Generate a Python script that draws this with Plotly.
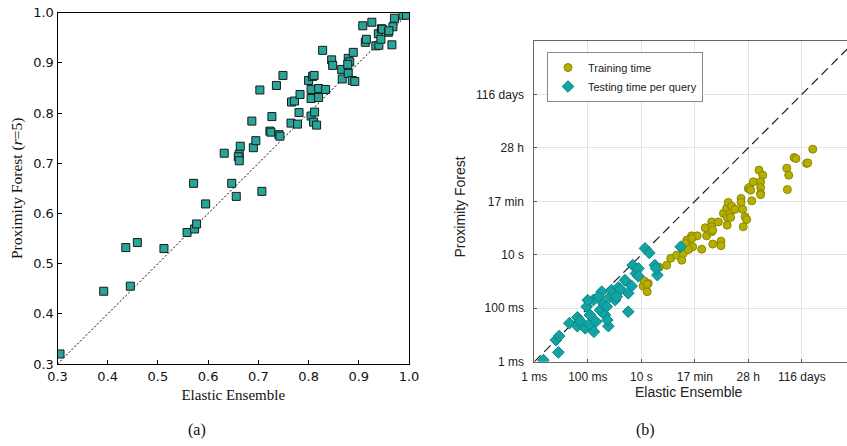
import numpy as np
import plotly.graph_objects as go

# ---- Panel (a): accuracy comparison ----
ee_acc = [0.305, 0.392, 0.445, 0.436, 0.459, 0.512, 0.558, 0.573, 0.577, 0.571,
          0.595, 0.647, 0.656, 0.707, 0.632, 0.662, 0.660, 0.662, 0.664, 0.690,
          0.695, 0.687, 0.703, 0.723, 0.725, 0.741, 0.743, 0.727, 0.736, 0.749,
          0.766, 0.772, 0.783, 0.765, 0.778, 0.781, 0.800, 0.808, 0.811, 0.805,
          0.820, 0.834, 0.805, 0.820, 0.805, 0.812, 0.810, 0.816, 0.828, 0.846,
          0.848, 0.866, 0.867, 0.879, 0.882, 0.878, 0.879, 0.889, 0.887, 0.892,
          0.908, 0.926, 0.913, 0.915, 0.934, 0.940, 0.939, 0.945, 0.947, 0.944,
          0.959, 0.968, 0.971, 0.966, 0.988, 0.995, 0.960]
pf_acc = [0.320, 0.445, 0.455, 0.532, 0.542, 0.530, 0.562, 0.569, 0.579, 0.660,
          0.619, 0.660, 0.634, 0.644, 0.720, 0.718, 0.713, 0.705, 0.734, 0.731,
          0.745, 0.784, 0.846, 0.764, 0.762, 0.757, 0.754, 0.793, 0.855, 0.875,
          0.822, 0.824, 0.837, 0.780, 0.778, 0.801, 0.865, 0.873, 0.875, 0.847,
          0.849, 0.847, 0.829, 0.831, 0.794, 0.802, 0.782, 0.776, 0.925, 0.906,
          0.895, 0.887, 0.868, 0.909, 0.902, 0.897, 0.879, 0.921, 0.865, 0.863,
          0.974, 0.981, 0.941, 0.947, 0.934, 0.935, 0.958, 0.968, 0.967, 0.947,
          0.961, 0.972, 0.989, 0.936, 0.995, 0.995, 0.964]

# ---- Panel (b): run times, log10(seconds) ----
train_ee_log10s = [1.07, 1.26, 1.22, 1.10, 1.22, 1.67, 1.95, 2.10, 2.32, 2.51,
                   2.57, 2.63, 2.70, 2.76, 2.82, 2.66, 2.88, 2.92, 3.09, 3.26,
                   2.89, 2.76, 3.39, 3.44, 3.63, 3.63, 3.63, 3.67, 3.67, 3.88,
                   3.98, 3.98, 4.07, 4.19, 4.21, 4.21, 4.25, 4.32, 4.38, 4.50,
                   4.34, 4.73, 4.73, 4.79, 4.88, 4.94, 4.81, 5.00, 5.04, 5.09,
                   5.13, 5.19, 5.40, 5.54, 5.46, 5.46, 5.46, 5.46, 6.44, 6.51,
                   6.46, 6.71, 6.78, 7.18, 7.22, 7.41]
train_pf_log10s = [-0.17, -0.07, -0.38, 0.03, -0.10, 0.53, 0.61, 0.87, 0.99, 0.80,
                   1.05, 1.36, 1.55, 1.21, 1.36, 1.42, 1.71, 1.30, 1.71, 1.21,
                   1.61, 1.20, 2.01, 1.71, 2.23, 2.05, 1.86, 1.40, 1.92, 2.23,
                   1.51, 1.34, 2.55, 2.74, 2.40, 2.11, 2.96, 2.55, 2.82, 2.70,
                   2.40, 3.11, 2.96, 2.70, 2.42, 2.32, 2.05, 3.48, 3.52, 3.42,
                   3.02, 3.73, 4.17, 3.98, 3.73, 3.52, 3.30, 3.25, 4.24, 3.98,
                   3.44, 4.64, 4.60, 4.42, 4.44, 4.95]
test_ee_log10s = [-2.66, -2.10, -2.19, -2.07, -1.69, -1.39, -1.39, -1.04, -1.10, -0.94,
                  -0.92, -0.79, -0.77, -0.69, -0.54, -0.48, -0.42, -0.36, -0.23, -0.27,
                  -0.17, -0.11, 0.02, 0.14, 0.23, 0.39, 0.51, 0.64, 0.51, 0.68,
                  0.80, 0.89, 0.89, 1.14, 1.30, 1.51, 1.60, 1.55, 2.47, -1.29,
                  -0.61, -1.00, -0.29, 0.08]
test_pf_log10s = [-2.94, -2.65, -2.19, -2.04, -1.56, -1.67, -1.34, -0.94, -1.75, -1.59,
                  -1.25, -0.69, -1.88, -1.50, -1.07, -0.38, -0.82, -1.25, -1.67, -1.44,
                  -0.57, -0.32, -0.69, -0.22, -0.29, 0.05, -0.44, -0.17, -1.13, 0.61,
                  0.30, 0.49, 0.20, 1.24, 1.07, 0.61, 0.24, 0.49, 1.30, -1.47,
                  -0.57, -0.70, -0.94, -0.57]

time_tick_seconds = [1e-3, 1e-1, 1e1, 1e3, 1e5, 1e7]
time_tick_labels = ["1 ms", "100 ms", "10 s", "17 min", "28 h", "116 days"]
acc_ticks = [0.3, 0.4, 0.5, 0.6, 0.7, 0.8, 0.9, 1.0]

W, H = 847, 446
fig = go.Figure()

# Panel (a)
fig.add_trace(go.Scatter(x=[0.3, 1.0], y=[0.3, 1.0], mode="lines",
                         line=dict(color="black", width=1, dash="2px,2px"),
                         xaxis="x", yaxis="y", showlegend=False, hoverinfo="skip"))
fig.add_trace(go.Scatter(x=ee_acc, y=pf_acc, mode="markers",
                         marker=dict(symbol="square", size=8, color="#26a69a",
                                     line=dict(color="#1a1a1a", width=1)),
                         xaxis="x", yaxis="y", showlegend=False))

# Panel (b)
fig.add_trace(go.Scatter(x=[1e-3, 1e9], y=[1e-3, 1e9], mode="lines",
                         line=dict(color="#222222", width=1.2, dash="9px,5px"),
                         xaxis="x2", yaxis="y2", showlegend=False, hoverinfo="skip"))
fig.add_trace(go.Scatter(x=np.power(10.0, train_ee_log10s), y=np.power(10.0, train_pf_log10s),
                         mode="markers", name="Training time",
                         marker=dict(symbol="circle", size=8, color="#b5b000",
                                     line=dict(color="#8c8800", width=1)),
                         xaxis="x2", yaxis="y2"))
fig.add_trace(go.Scatter(x=np.power(10.0, test_ee_log10s), y=np.power(10.0, test_pf_log10s),
                         mode="markers", name="Testing time per query",
                         marker=dict(symbol="diamond", size=9, color="#12a4a4",
                                     line=dict(color="#0a8585", width=1)),
                         xaxis="x2", yaxis="y2"))

serif = "Liberation Serif, DejaVu Serif, serif"
sans = "Liberation Sans, Arial, sans-serif"
dsans = "DejaVu Sans, sans-serif"

xa_dom = [57.5 / W, 409 / W]
ya_dom = [(H - 364) / H, (H - 12.7) / H]
xb_dom = [534.3 / W, 1.0]
yb_dom = [(H - 361.7) / H, (H - 41) / H]

fig.update_layout(
    width=W, height=H,
    margin=dict(l=0, r=0, t=0, b=0, autoexpand=False),
    paper_bgcolor="white", plot_bgcolor="white",
    showlegend=True,
    legend=dict(x=547 / W, y=(H - 52) / H, xanchor="left", yanchor="top",
                bordercolor="#888888", borderwidth=1, bgcolor="white",
                font=dict(family=sans, size=11, color="#222222"),
                tracegroupgap=0, itemwidth=30),
    xaxis=dict(domain=xa_dom, range=[0.3, 1.0], anchor="y", automargin=False,
               tickvals=acc_ticks, ticktext=[f"{v:.1f}" for v in acc_ticks],
               ticks="inside", ticklen=4, tickcolor="black",
               showline=True, linecolor="black", linewidth=1, mirror=True,
               showgrid=False, zeroline=False,
               tickfont=dict(family=dsans, size=13, color="#111111"),
               title=dict(text="Elastic Ensemble", font=dict(family=serif, size=15, color="#111111"),
                          standoff=6)),
    yaxis=dict(domain=ya_dom, range=[0.3, 1.0], anchor="x", automargin=False,
               tickvals=acc_ticks, ticktext=[f"{v:.1f}" for v in acc_ticks],
               ticks="inside", ticklen=4, tickcolor="black",
               showline=True, linecolor="black", linewidth=1, mirror=True,
               showgrid=False, zeroline=False,
               tickfont=dict(family=dsans, size=13, color="#111111"),
               title=dict(text="Proximity Forest (<i>r</i>=5)",
                          font=dict(family=serif, size=15.5, color="#111111"), standoff=6)),
    xaxis2=dict(domain=xb_dom, type="log", range=[-3, 8.69], anchor="y2", automargin=False,
                tickvals=time_tick_seconds, ticktext=time_tick_labels,
                ticks="inside", ticklen=3, tickcolor="#555555", ticklabelstandoff=4,
                showline=True, linecolor="#666666", linewidth=1, mirror=True,
                showgrid=True, gridcolor="#e3e3e3", gridwidth=1, zeroline=False,
                tickfont=dict(family=sans, size=12, color="#222222")),
    yaxis2=dict(domain=yb_dom, type="log", range=[-3, 9], anchor="x2", automargin=False,
                tickvals=time_tick_seconds, ticktext=time_tick_labels,
                ticks="inside", ticklen=3, tickcolor="#555555", ticklabelstandoff=7,
                showline=True, linecolor="#666666", linewidth=1, mirror=True,
                showgrid=True, gridcolor="#e3e3e3", gridwidth=1, zeroline=False,
                tickfont=dict(family=sans, size=12, color="#222222")),
    annotations=[
        dict(text="Elastic Ensemble", x=689 / W, y=(H - 392) / H, xref="paper", yref="paper",
             xanchor="center", yanchor="middle", showarrow=False,
             font=dict(family=sans, size=14, color="#222222")),
        dict(text="Proximity Forest", x=460 / W, y=(H - 207.5) / H, xref="paper", yref="paper",
             xanchor="center", yanchor="middle", textangle=-90, showarrow=False,
             font=dict(family=sans, size=14, color="#222222")),
        dict(text="(a)", x=197 / W, y=(H - 430) / H, xref="paper", yref="paper",
             xanchor="center", yanchor="middle",
             showarrow=False, font=dict(family=serif, size=16, color="#111111")),
        dict(text="(b)", x=645 / W, y=(H - 430) / H, xref="paper", yref="paper",
             xanchor="center", yanchor="middle",
             showarrow=False, font=dict(family=serif, size=16, color="#111111")),
    ],
)

fig.write_html("out.html", config={"displayModeBar": False},
               post_script="document.body.style.margin='0';document.body.style.padding='0';"
                           "document.body.style.overflow='hidden';")
